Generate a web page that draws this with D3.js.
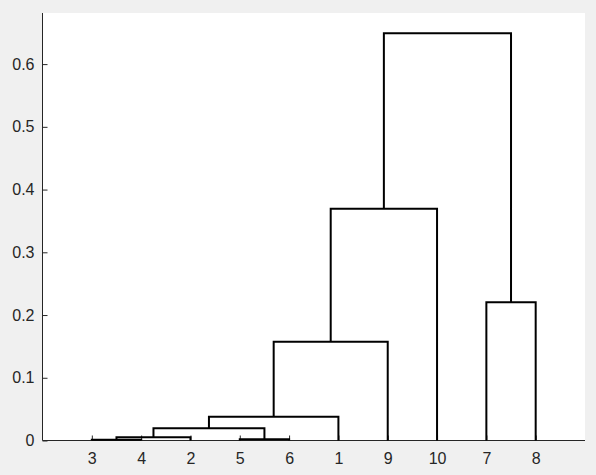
<!DOCTYPE html>
<html><head><meta charset="utf-8">
<script src="https://cdn.jsdelivr.net/npm/d3@7"></script>
<style>
html,body{margin:0;padding:0;background:#f0f0f0;}
svg{display:block;}
text{font-family:"Liberation Sans",Arial,Helvetica,sans-serif;}
</style></head>
<body>
<script>
// Leaf order along the x axis
const leafLabels = ["3","4","2","5","6","1","9","10","7","8"];
// Linkage: cluster k (named "c"+(k+1)) joins mergeA[k] and mergeB[k] at mergeHeight[k]
const mergeA = ["3","c1","5","c2","c4","c5","c6","7","c7"];
const mergeB = ["4","2","6","c3","1","9","10","8","c8"];
const mergeHeight = [0.001,0.005,0.002,0.0194,0.038,0.1575,0.3695,0.2202,0.649];
const yTickValues = [0,0.1,0.2,0.3,0.4,0.5,0.6];
const yTickLabels = ["0","0.1","0.2","0.3","0.4","0.5","0.6"];

(function(){
const W = 596, H = 475;
const svg = d3.select("body").append("svg").attr("width", W).attr("height", H);
const mL = 42.5, mR = 585, mT = 13, mB = 440.5;

svg.append("rect").attr("x", mL).attr("y", mT)
  .attr("width", mR - mL).attr("height", mB - mT).attr("fill", "#fff");

const x = d3.scaleLinear().domain([0, leafLabels.length + 1]).range([mL, mR]);
const y = d3.scaleLinear().domain([0, d3.max(mergeHeight) * 1.05]).range([mB, mT]);

// node positions
const pos = {};
leafLabels.forEach((l, i) => pos[l] = {x: i + 1, h: 0});
const links = [];
mergeA.forEach((a, k) => {
  const b = mergeB[k], h = mergeHeight[k];
  const pa = pos[a], pb = pos[b];
  links.push({x1: pa.x, h1: pa.h, x2: pb.x, h2: pb.h, h});
  pos["c" + (k + 1)] = {x: (pa.x + pb.x) / 2, h};
});

// axes
const gx = svg.append("g").attr("transform", `translate(0,${mB})`)
  .call(d3.axisBottom(x).tickValues(leafLabels.map((d, i) => i + 1))
    .tickFormat((d) => leafLabels[d - 1]).tickSizeInner(-5).tickSizeOuter(0).tickPadding(12));
const gy = svg.append("g").attr("transform", `translate(${mL},0)`)
  .call(d3.axisLeft(y).tickValues(yTickValues).tickFormat((d, i) => yTickLabels[i])
    .tickSizeInner(-5).tickSizeOuter(0).tickPadding(8));
[gx, gy].forEach(g => {
  g.select(".domain").attr("stroke", "#262626");
  g.selectAll(".tick line").attr("stroke", "#262626");
  g.selectAll(".tick text").attr("fill", "#262626").attr("font-size", 16)
    .attr("font-family", "'Liberation Sans',Arial,sans-serif");
});
gy.select(".domain").attr("d", `M0,${mT}V${mB}`);
gx.select(".domain").attr("d", `M${mL},0H${mR}`);

// dendrogram links
svg.append("g").selectAll("path").data(links).join("path")
  .attr("d", d => `M${x(d.x1)},${y(d.h1)}V${y(d.h)}H${x(d.x2)}V${y(d.h2)}`)
  .attr("fill", "none").attr("stroke", "#000").attr("stroke-width", 2);
})();
</script>
</body></html>
